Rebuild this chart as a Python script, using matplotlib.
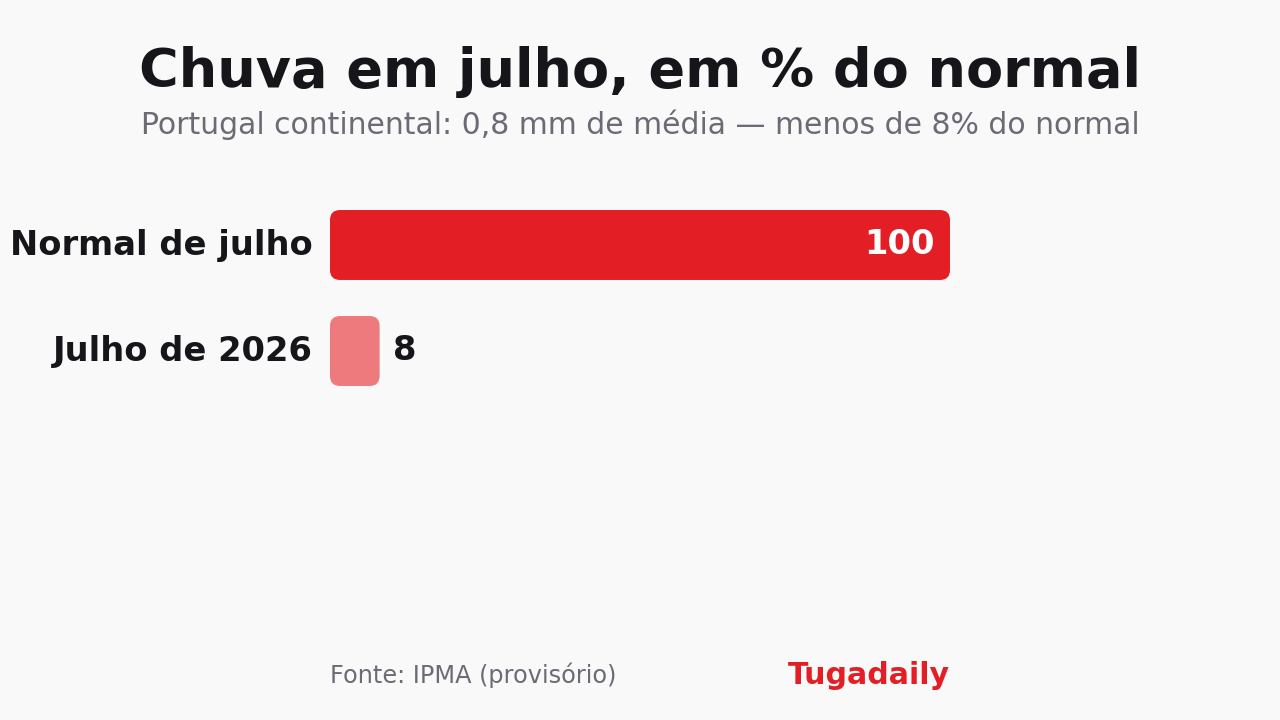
import matplotlib
matplotlib.use("Agg")
import matplotlib.pyplot as plt
from matplotlib.patches import FancyBboxPatch

categories = ["Normal de julho", "Julho de 2026"]
values = [100, 8]
bar_colors = ["#e41e25", "#ef7a7d"]

title = "Chuva em julho, em % do normal"
subtitle = "Portugal continental: 0,8 mm de média — menos de 8% do normal"
source = "Fonte: IPMA (provisório)"
brand = "Tugadaily"

BG = "#f9f9f9"
DARK = "#16161a"
GREY = "#6b6b75"
RED = "#e41e25"

plt.rcParams['font.family'] = ['DejaVu Sans']

fig = plt.figure(figsize=(12.8, 7.2), dpi=100, facecolor=BG)

# axes placed in pixel terms: x 330..950, rows 106 px apart
W, H = 1280, 720
ax_left, ax_width = 330, 620
ax_top, ax_bottom = 192, 404
ax = fig.add_axes([ax_left / W, (H - ax_bottom) / H, ax_width / W, (ax_bottom - ax_top) / H])
ax.set_facecolor(BG)
ax.set_xlim(0, 100)
ax.set_ylim(1.5, -0.5)
ax.axis("off")

bar_h = 0.66
px_x = 100 / ax_width
px_y = 2.0 / (ax_bottom - ax_top)
radius = 10 * px_x
aspect = px_y / px_x

for i, (cat, val) in enumerate(zip(categories, values)):
    box = FancyBboxPatch((0, i - bar_h / 2), val, bar_h,
                         boxstyle=f"round,pad=0,rounding_size={radius}",
                         mutation_aspect=aspect, facecolor=bar_colors[i],
                         edgecolor="none")
    ax.add_patch(box)
    ax.text(-17 * px_x, i, cat, ha="right", va="center", fontsize=24.3,
            fontweight="bold", color=DARK)
    if val > 30:
        ax.text(val - 15 * px_x, i, str(val), ha="right", va="center",
                fontsize=24.3, fontweight="bold", color="white")
    else:
        ax.text(val + 13 * px_x, i, str(val), ha="left", va="center",
                fontsize=24.3, fontweight="bold", color=DARK)

fig.text(0.5, 1 - 72 / H, title, ha="center", va="center", fontsize=38.9,
         fontweight="bold", color=DARK)
fig.text(0.5, 1 - 125 / H, subtitle, ha="center", va="center", fontsize=21.5,
         color=GREY)
fig.text(330 / W, 1 - 675 / H, source, ha="left", va="center", fontsize=17.3,
         color=GREY)
fig.text(950 / W, 1 - 675 / H, brand, ha="right", va="center", fontsize=21.6,
         fontweight="bold", color=RED)

fig.savefig("out.png", dpi=100, facecolor=BG)
